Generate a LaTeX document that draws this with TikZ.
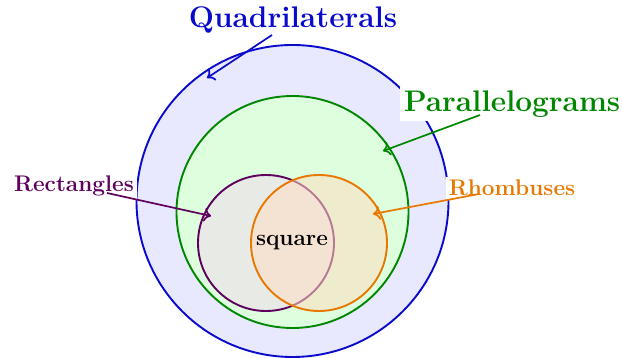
\documentclass[tikz,border=0pt]{standalone}
\usetikzlibrary{arrows.meta}
\definecolor{qblue}{RGB}{10,10,205}
\definecolor{qbluefill}{RGB}{232,232,255}
\definecolor{pgreen}{RGB}{0,135,0}
\definecolor{pgreenfill}{RGB}{221,255,221}
\definecolor{rpurple}{RGB}{95,0,95}
\definecolor{rpurplefill}{RGB}{232,234,230}
\definecolor{horange}{RGB}{232,120,0}
\definecolor{horangefill}{RGB}{255,222,195}
\tikzset{
  setcircle/.style={line width=0.95pt},
  biglabel/.style={font=\fontsize{14.9}{17}\selectfont\bfseries, fill=white, inner sep=2pt},
  smalllabel/.style={font=\fontsize{11.3}{13}\selectfont\bfseries, fill=white, inner sep=1.5pt},
  pointer/.style={line width=0.85pt, -{To[length=3.5pt,width=7pt]}}
}
\begin{document}
\begin{tikzpicture}[x=0.5pt,y=-0.5pt]
\useasboundingbox (0,0) rectangle (622,358);
% circles
\draw[setcircle, draw=qblue, fill=qbluefill] (292.5,201) circle [radius=78pt];
\draw[setcircle, draw=pgreen, fill=pgreenfill] (292.5,212) circle [radius=58pt];
\draw[setcircle, draw=rpurple, fill=rpurplefill] (266,243) circle [radius=34pt];
\draw[setcircle, draw=horange, fill=horangefill, fill opacity=0.55] (319,243) circle [radius=34pt];
% labels
\node[biglabel, text=qblue] (quad) at (293,20) {Quadrilaterals};
\node[biglabel, text=pgreen] (para) at (512,104) {Parallelograms};
\node[smalllabel, text=rpurple] (rect) at (74,186) {Rectangles};
\node[smalllabel, text=horange] (rhomb) at (512,188) {Rhombuses};
\node[font=\fontsize{11.3}{13}\selectfont\bfseries] (sq) at (292,243) {square};
% arrow ends
\coordinate (qs) at (272,35);  \coordinate (qe) at (207,78);
\coordinate (ps) at (480,115); \coordinate (pe) at (383,151);
\coordinate (rs) at (107,193); \coordinate (re) at (211,216);
\coordinate (hs) at (479,194); \coordinate (he) at (373,214);
\draw[pointer, qblue] (qs) -- (qe);
\draw[pointer, pgreen] (ps) -- (pe);
\draw[pointer, rpurple] (rs) -- (re);
\draw[pointer, horange] (hs) -- (he);
\end{tikzpicture}
\end{document}
